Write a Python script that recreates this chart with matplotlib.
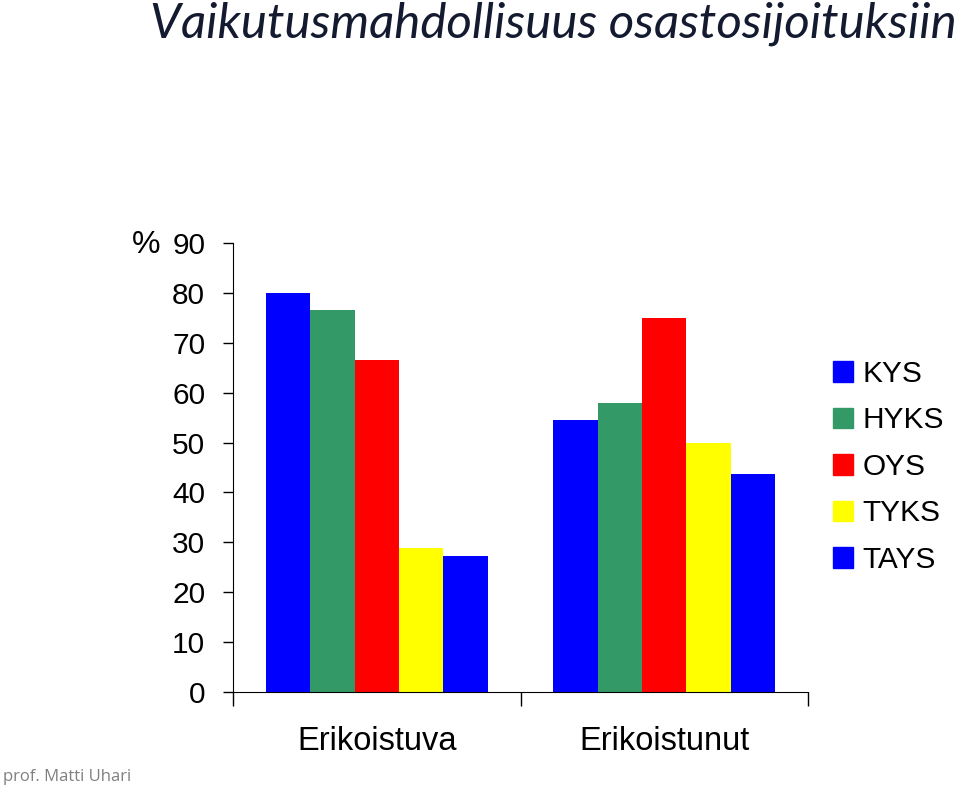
import numpy as np
import matplotlib
matplotlib.use("Agg")
import matplotlib.pyplot as plt
from matplotlib.patches import Patch

categories = ["Erikoistuva", "Erikoistunut"]
hospitals = ["KYS", "HYKS", "OYS", "TYKS", "TAYS"]
colors = ["#0000ff", "#339966", "#ff0000", "#ffff00", "#0000ff"]
values = {
    "KYS": [80.0, 54.5],
    "HYKS": [76.6, 57.9],
    "OYS": [66.5, 75.0],
    "TYKS": [28.9, 49.9],
    "TAYS": [27.3, 43.7],
}
yticks = [0, 10, 20, 30, 40, 50, 60, 70, 80, 90]

plt.rcParams["font.family"] = ["Liberation Sans", "DejaVu Sans"]

fig = plt.figure(figsize=(9.6, 7.89), dpi=100)
ax = fig.add_axes([233 / 960, 1 - 692 / 789, 575 / 960, 449 / 789])

x = np.arange(len(categories))
w = 0.1545
for i, h in enumerate(hospitals):
    ax.bar(x + (i - 2) * w, values[h], width=w, color=colors[i], label=h)

ax.set_xlim(-0.5, 1.5)
ax.set_ylim(0, 90)
ax.set_yticks(yticks)
ax.set_yticklabels([str(t) for t in yticks], fontsize=21.5)
ax.tick_params(axis="y", length=7, width=1, pad=13)

# category boundary ticks on the x axis
ax.set_xticks([-0.5, 0.5, 1.5])
ax.set_xticklabels([])
ax.tick_params(axis="x", length=10, width=1)
for xi, c in zip(x, categories):
    ax.text(xi, -6.8, c, ha="center", va="top", fontsize=23.5)

for s in ["top", "right"]:
    ax.spines[s].set_visible(False)

fig.text(132 / 960, 1 - 245 / 789, "%", fontsize=23, va="center", ha="left")

handles = [Patch(color=colors[i], label=h) for i, h in enumerate(hospitals)]
fig.legend(handles=handles, loc="upper left", bbox_to_anchor=(806 / 960, 1 - 333 / 789),
           frameon=False, fontsize=21.5, handlelength=0.68, handleheight=0.68,
           handletextpad=0.3, labelspacing=0.62)

fig.text(150 / 960, 1 - 2 / 789, "Vaikutusmahdollisuus osastosijoituksiin",
         family="Lato", style="italic", fontsize=35.5, color="#141a30", va="top", ha="left")
fig.text(3 / 960, 1 - 777 / 789, "prof. Matti Uhari", family="Open Sans",
         fontsize=12, color="#808080", va="center", ha="left")

fig.savefig("out.png", dpi=100)
